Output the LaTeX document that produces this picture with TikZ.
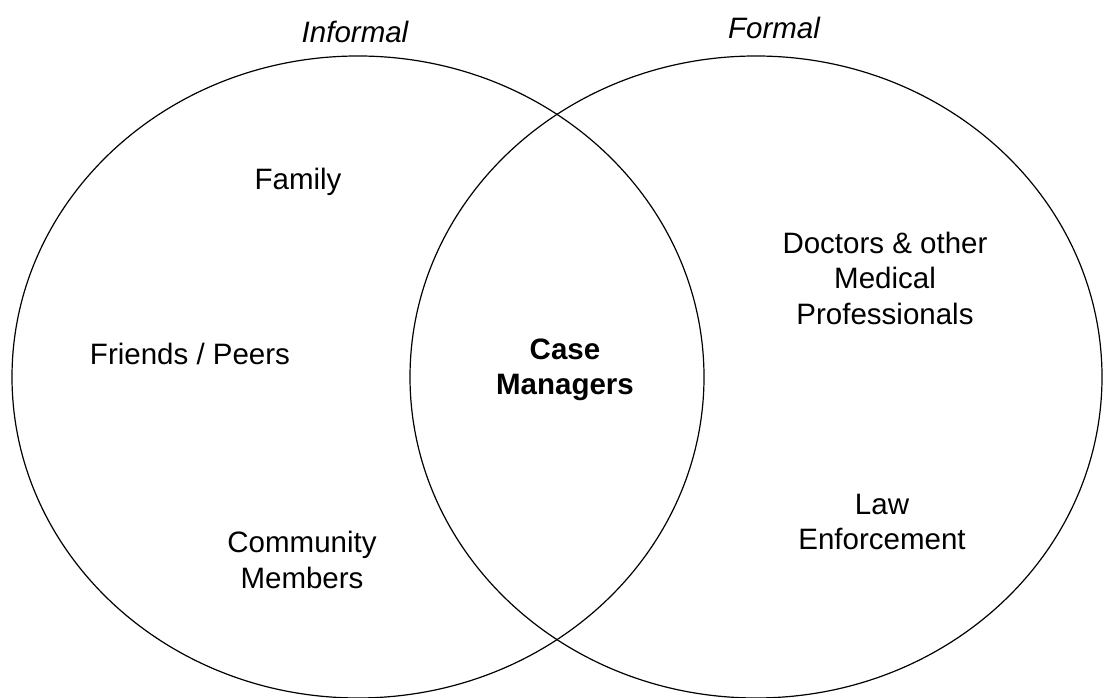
\documentclass[tikz,border=0pt]{standalone}
\usepackage{fontspec}
\setmainfont{Liberation Sans}
\usetikzlibrary{shapes.geometric}

\begin{document}
\begin{tikzpicture}[x=1pt,y=1pt,
                    set/.style={ellipse,draw,line width=1.2pt,minimum width=692pt,minimum height=642pt,inner sep=0pt},
                    lbl/.style={align=center,font=\fontsize{29.5}{35.5}\selectfont}]
  \useasboundingbox (0,0) rectangle (1108,698);
  \node[set] (informal) at (358,321) {};
  \node[set] (formal) at (756,321) {};

  % set titles
  \node[lbl,font=\fontsize{29.5}{35.5}\selectfont\itshape] (informaltitle) at (355,666) {Informal};
  \node[lbl,font=\fontsize{29.5}{35.5}\selectfont\itshape] (formaltitle) at (774,670) {Formal};

  \node[lbl] (family) at (298,516) {Family};
  \node[lbl] (friends) at (190,344) {Friends / Peers};
  \node[lbl] (community) at (302,138) {Community\\Members};
  \node[lbl,font=\fontsize{29.5}{35.5}\selectfont\bfseries] (case) at (565,328) {Case\\Managers};
  \node[lbl] (doctors) at (885,420) {Doctors \& other\\Medical\\Professionals};
  \node[lbl] (law) at (882,176) {Law\\Enforcement};
\end{tikzpicture}
\end{document}
